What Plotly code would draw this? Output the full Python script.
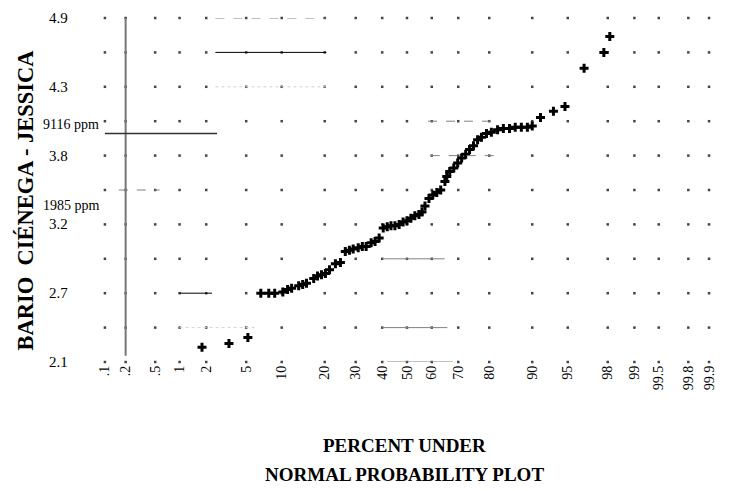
from statistics import NormalDist
import math
import plotly.graph_objects as go

# ---------------- data ----------------
percent_under = [1.80, 3.43, 5.18, 6.74, 7.87, 8.80, 10.2, 11.1, 11.9, 13.4, 14.3, 15.2, 17.0, 18.0,
                 19.1, 20.2, 21.4, 23.2, 24.8, 26.4, 27.8, 29.1, 30.9, 32.4, 33.8, 35.7, 37.2, 38.8,
                 40.4, 42.0, 43.5, 45.1, 46.8, 48.4, 50.0, 51.6, 53.2, 54.9, 56.1, 57.3, 58.9, 60.4,
                 62.0, 63.5, 65.1, 65.8, 66.9, 68.4, 69.8, 71.2, 72.6, 73.9, 75.2, 76.5, 77.7, 79.2,
                 80.6, 82.3, 83.8, 85.3, 86.6, 87.9, 89.1, 90.0, 91.4, 93.3, 94.7, 96.5, 97.8, 98.1]
log_ba = [2.22, 2.25, 2.30, 2.66, 2.66, 2.66, 2.67, 2.69, 2.70, 2.72, 2.73, 2.74, 2.78, 2.80,
          2.81, 2.82, 2.85, 2.90, 2.91, 3.00, 3.01, 3.02, 3.03, 3.04, 3.04, 3.07, 3.08, 3.11,
          3.19, 3.20, 3.21, 3.21, 3.22, 3.24, 3.25, 3.27, 3.29, 3.30, 3.32, 3.37, 3.43, 3.46,
          3.48, 3.50, 3.57, 3.61, 3.65, 3.68, 3.72, 3.76, 3.79, 3.83, 3.86, 3.91, 3.93, 3.96,
          3.97, 3.99, 4.00, 4.00, 4.01, 4.01, 4.01, 4.02, 4.09, 4.14, 4.18, 4.49, 4.62, 4.75]

x_tick_pct = [0.1, 0.2, 0.5, 1, 2, 5, 10, 20, 30, 40, 50, 60, 70, 80, 90, 95, 98, 99, 99.5, 99.8, 99.9]
x_tick_text = [".1", ".2", ".5", "1", "2", "5", "10", "20", "30", "40", "50", "60", "70", "80",
               "90", "95", "98", "99", "99.5", "99.8", "99.9"]
y_label_vals = [2.1, 2.66, 3.22, 3.78, 4.34, 4.9]
y_label_text = ["2.1", "2.7", "3.2", "3.8", "4.3", "4.9"]
y_grid_vals = [2.1, 2.38, 2.66, 2.94, 3.22, 3.5, 3.78, 4.06, 4.34, 4.62, 4.9]
ref_ppm = [9116, 1985]
ref_text = ["9116 ppm", "1985 ppm"]

# partial grid strokes seen in the scan: (pct from, pct to, y level, colour, dash)
strokes = [(2.5, 20.5, 4.9, "gray", "dash"), (2.5, 20.5, 4.62, "black", "solid"),
           (2.5, 20.5, 4.34, "lightgray", "dot"), (58.5, 82.3, 4.06, "gray", "dash"),
           (59.6, 82.3, 3.78, "gray", "dash"), (0.16, 0.57, 3.5, "gray", "dash"),
           (40.0, 65.0, 2.94, "gray", "solid"), (1.0, 2.3, 2.66, "black", "solid"),
           (1.0, 6.0, 2.38, "lightgray", "dot"), (40.0, 66.0, 2.38, "gray", "solid"),
           (42.0, 68.0, 2.1, "gray", "solid")]

nd = NormalDist()
def z(p):
    return nd.inv_cdf(p / 100.0)

xz = [z(p) for p in percent_under]
tick_z = [z(p) for p in x_tick_pct]

fig = go.Figure()

# grid intersection dots
gx, gy = [], []
for tz in tick_z:
    for yv in y_grid_vals:
        gx.append(tz)
        gy.append(yv)
fig.add_trace(go.Scatter(x=gx, y=gy, mode="markers", cliponaxis=False,
                         marker=dict(symbol="square", size=2.5, color="#444444"),
                         hoverinfo="skip", showlegend=False))

fig.add_trace(go.Scatter(x=xz, y=log_ba, mode="markers",
                         marker=dict(symbol="cross", size=7.5, color="black"),
                         showlegend=False))

shapes = []
# vertical axis line at 0.2 %
shapes.append(dict(type="line", xref="x", yref="y", x0=z(0.2), x1=z(0.2), y0=2.15, y1=4.9,
                   line=dict(color="#777777", width=2)))
# reference line at 9116 ppm
shapes.append(dict(type="line", xref="x", yref="y", x0=z(0.1), x1=z(2.6),
                   y0=math.log10(ref_ppm[0]), y1=math.log10(ref_ppm[0]),
                   line=dict(color="#333333", width=1.5)))
for p0, p1, yv, col, dash in strokes:
    shapes.append(dict(type="line", xref="x", yref="y", x0=z(p0), x1=z(p1), y0=yv, y1=yv,
                       line=dict(color=col, width=1, dash=dash)))

annotations = []
L = 102
W = 612
H = 344
def px_x(px):
    return (px - L) / W
def px_y(py):
    return (362 - py) / H

for v, t in zip(y_label_vals, y_label_text):
    annotations.append(dict(x=px_x(47), xref="paper", y=v, yref="y", text=t, showarrow=False,
                            xanchor="left", yanchor="middle",
                            font=dict(family="Liberation Serif", size=15, color="black")))
for ppm, t in zip(ref_ppm, ref_text):
    annotations.append(dict(x=px_x(41), xref="paper", y=math.log10(ppm), yref="y", text=t,
                            showarrow=False, xanchor="left", yanchor="bottom",
                            font=dict(family="Liberation Serif", size=14, color="black")))

annotations.append(dict(x=px_x(24), xref="paper", y=px_y(200), yref="paper",
                        text="<b>BARIO  CIÉNEGA - JESSICA</b>", textangle=-90, showarrow=False,
                        xanchor="center", yanchor="middle",
                        font=dict(family="Liberation Serif", size=22.5, color="black")))
annotations.append(dict(x=px_x(406), xref="paper", y=px_y(445), yref="paper",
                        text="<b>PERCENT UNDER</b>", showarrow=False, xanchor="center",
                        yanchor="middle", font=dict(family="Liberation Serif", size=19, color="black")))
annotations.append(dict(x=px_x(406), xref="paper", y=px_y(474), yref="paper",
                        text="<b>NORMAL PROBABILITY PLOT</b>", showarrow=False, xanchor="center",
                        yanchor="middle", font=dict(family="Liberation Serif", size=19, color="black")))

fig.update_layout(
    width=729, height=491,
    margin=dict(l=L, r=729 - L - W, t=18, b=491 - 18 - H),
    paper_bgcolor="white", plot_bgcolor="white",
    shapes=shapes, annotations=annotations,
    xaxis=dict(range=[-3.12, 3.10], tickvals=tick_z, ticktext=x_tick_text, tickangle=-90,
               showgrid=False, zeroline=False, showline=False, ticks="",
               tickfont=dict(family="Liberation Serif", size=14, color="black")),
    yaxis=dict(range=[2.1, 4.9], tickvals=y_grid_vals, showticklabels=False,
               showgrid=False, zeroline=False, showline=False, ticks=""),
)

fig.write_html("out.html")
